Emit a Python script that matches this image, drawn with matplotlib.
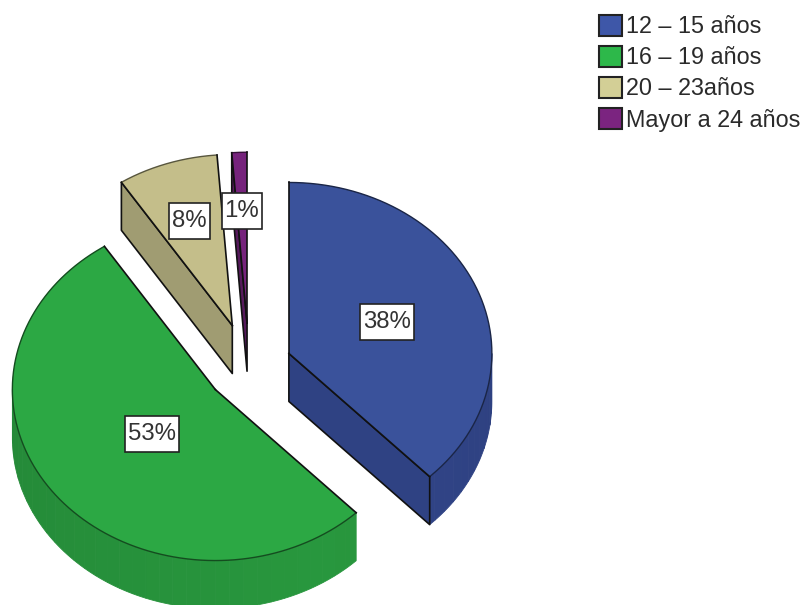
import numpy as np
import matplotlib
matplotlib.use('Agg')
import matplotlib.pyplot as plt
from matplotlib.patches import Patch, Polygon, Rectangle

plt.rcParams['font.family'] = ['Liberation Sans', 'DejaVu Sans']

# Data
categories = ['12 – 15 años', '16 – 19 años', '20 – 23años', 'Mayor a 24 años']
percent = [37.8, 53, 8, 1.2]
labels = ['38%', '53%', '8%', '1%']

# Look of each slice
top_colors = ['#3a529b', '#2ca844', '#c4be8a', '#76237c']
wall_colors = ['#2f4283', '#27933c', '#a09c72', '#561a5c']
legend_colors = ['#3e57a8', '#2db84a', '#d3cf96', '#7b2480']
explode = [43, 43, 52, 52]
label_radius = [0.52, 0.40, 0.66, 0.67]

# Pie geometry in pixels
cx, cy = 249, 367
rx, ry = 203, 171
depth = 48


def ellipse(t, x0, y0):
    # t is in degrees, clockwise from the top
    r = np.radians(t)
    return np.column_stack([x0 + rx * np.sin(r), y0 - ry * np.cos(r)])


def shade(color, f):
    rgb = np.array(matplotlib.colors.to_rgb(color))
    return tuple(np.clip(rgb * f, 0, 1))


fig = plt.figure(figsize=(8.01, 6.05), dpi=100)
ax = fig.add_axes([0, 0, 1, 1])
ax.set_xlim(0, 801)
ax.set_ylim(605, 0)
ax.axis('off')

bounds = np.concatenate([[0], np.cumsum(percent)]) * 360 / sum(percent)

for i in range(len(percent)):
    a0, a1 = bounds[i], bounds[i + 1]
    mid = np.radians((a0 + a1) / 2)
    x0 = cx + explode[i] * np.sin(mid)
    y0 = cy - explode[i] * np.cos(mid) * ry / rx
    apex = np.array([[x0, y0]])
    arc = ellipse(np.linspace(a0, a1, 200), x0, y0)

    # Outer rim, only the part facing the viewer, in narrow shaded strips
    r0, r1 = max(a0, 90), min(a1, 270)
    if r1 > r0:
        steps = np.arange(r0, r1 + 4, 4.0)
        steps[-1] = r1
        for s0, s1 in zip(steps[:-1], steps[1:]):
            ts = np.linspace(s0, s1, 6)
            upper = ellipse(ts, x0, y0)
            lower = upper[::-1] + [0, depth]
            f = 1.03 - 0.1 * abs((s0 + s1) / 2 - 150) / 120
            c = shade(wall_colors[i], f)
            ax.add_patch(Polygon(np.vstack([upper, lower]), closed=True, fc=c, ec=c, lw=0.6))

    # Cut faces that turn towards the viewer
    for a, visible in ((a0, 180 <= a0 < 360), (a1, 0 < a1 <= 180)):
        if visible:
            p = ellipse(np.array([a]), x0, y0)
            face = np.vstack([apex, p, p + [0, depth], apex + [0, depth]])
            ax.add_patch(Polygon(face, closed=True, fc=wall_colors[i], ec='#111111', lw=1.2, joinstyle='round'))

    # Top face
    ax.add_patch(Polygon(np.vstack([apex, arc]), closed=True, fc=top_colors[i], ec='none'))
    ax.plot(arc[:, 0], arc[:, 1], color=shade(top_colors[i], 0.45), lw=1.0)
    for a in (a0, a1):
        p = ellipse(np.array([a]), x0, y0)
        ax.plot([x0, p[0, 0]], [y0, p[0, 1]], color='#111111', lw=1.2)

    # Percent label in a white box
    lab = ellipse(np.array([np.degrees(mid)]), 0, 0)[0] * label_radius[i]
    lx, ly = x0 + lab[0], y0 + lab[1] + 2
    t = ax.text(lx, ly, labels[i], fontsize=17.3, color='#333333', ha='center', va='center', zorder=6)
    w = t.get_window_extent(fig.canvas.get_renderer()).width + 6
    ax.add_patch(Rectangle((lx - w / 2, ly - 18), w, 36, fc='white', ec='#222222', lw=1.2, zorder=5))

handles = [Patch(fc=c, ec='#222222', lw=1.5) for c in legend_colors]
ax.legend(handles, categories, loc='upper left', bbox_to_anchor=(594 / 801, 1 - 10 / 605),
          frameon=False, fontsize=16.8, labelcolor='#2a2a2a', handlelength=1.0, handleheight=1.0,
          handletextpad=0.15, labelspacing=0.33, borderpad=0.2, borderaxespad=0)

fig.savefig('out.png', dpi=100)
